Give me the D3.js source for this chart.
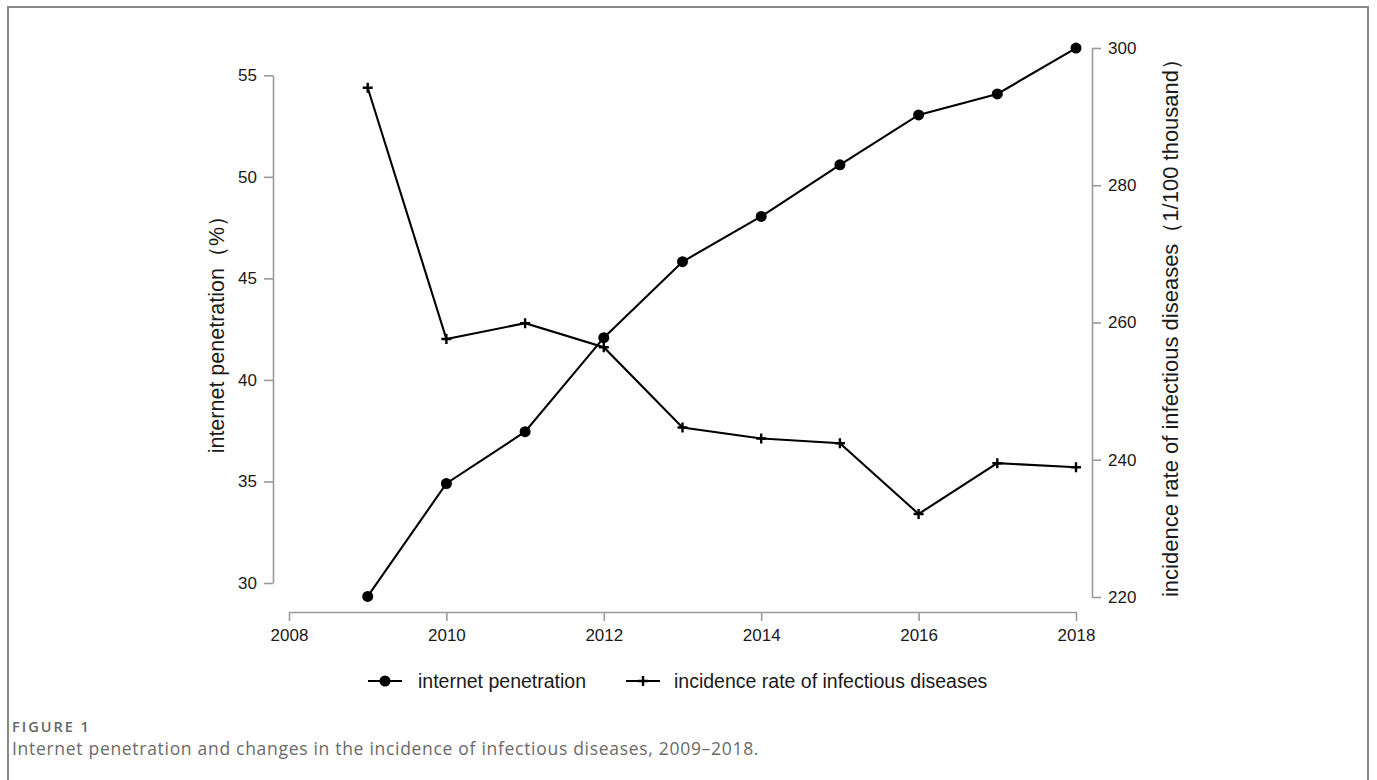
<!DOCTYPE html>
<html>
<head>
<meta charset="utf-8">
<script src="https://cdn.jsdelivr.net/npm/d3@7"></script>
<style>
  html, body { margin: 0; padding: 0; background: #fff; }
  svg { display: block; }
</style>
</head>
<body>
<svg id="chart" width="1377" height="780"></svg>
<script>
// Years on the shared x axis
const years = [2009, 2010, 2011, 2012, 2013, 2014, 2015, 2016, 2017, 2018];
// Internet penetration, % (left axis)
const penetration = [29.34, 34.9, 37.45, 42.08, 45.82, 48.05, 50.59, 53.05, 54.08, 56.34];
// Incidence rate of infectious diseases, per 100 thousand (right axis)
const incidence = [294.2, 257.6, 259.9, 256.4, 244.7, 243.1, 242.4, 232.1, 239.5, 238.9];

const xTicks = [2008, 2010, 2012, 2014, 2016, 2018];
const leftTicks = [30, 35, 40, 45, 50, 55];
const rightTicks = [220, 240, 260, 280, 300];

const seriesNames = ["internet penetration", "incidence rate of infectious diseases"];
const leftTitle = "internet penetration\uFF08%\uFF09";
const rightTitle = "incidence rate of infectious diseases\uFF081/100 thousand\uFF09";
const figLabel = "FIGURE 1";
const caption = "Internet penetration and changes in the incidence of infectious diseases, 2009\u20132018.";

const svg = d3.select("#chart");
const axisColor = "#9a9a9a";
const sans = "Arial, 'Liberation Sans', Helvetica, sans-serif";

// Figure frame (open at the bottom)
svg.append("path")
  .attr("d", "M8,780 L8,7 L1368,7 L1368,780")
  .attr("fill", "none")
  .attr("stroke", "#8a8a8a")
  .attr("stroke-width", 2);

// Scales
const x = d3.scaleLinear().domain([2008, 2018]).range([289, 1076]);
const yL = d3.scaleLinear().domain([30, 55]).range([583, 75.3]);
const yR = d3.scaleLinear().domain([220, 300]).range([597, 48]);

function styleAxis(g) {
  g.select(".domain").attr("stroke", axisColor).attr("stroke-width", 1.6);
  g.selectAll(".tick line").attr("stroke", axisColor).attr("stroke-width", 1.6);
  g.selectAll(".tick text")
    .attr("fill", "#1a1a1a")
    .style("font-family", sans)
    .style("font-size", "17px");
}

// Bottom axis
svg.append("g")
  .attr("transform", "translate(0,612)")
  .call(d3.axisBottom(x).tickValues(xTicks).tickFormat(d3.format("d")).tickSize(9).tickSizeOuter(0).tickPadding(8))
  .call(styleAxis);

// Left axis
svg.append("g")
  .attr("transform", "translate(273,0)")
  .call(d3.axisLeft(yL).tickValues(leftTicks).tickSize(9).tickSizeOuter(0).tickPadding(7))
  .call(styleAxis);

// Right axis
svg.append("g")
  .attr("transform", "translate(1092,0)")
  .call(d3.axisRight(yR).tickValues(rightTicks).tickSize(9).tickSizeOuter(0).tickPadding(7))
  .call(styleAxis);

// Axis titles
svg.append("text")
  .attr("transform", `translate(224,${(yL(30) + yL(55)) / 2}) rotate(-90)`)
  .attr("text-anchor", "middle")
  .style("font-family", sans)
  .style("font-size", "21.5px")
  .attr("fill", "#1a1a1a")
  .text(leftTitle);

svg.append("text")
  .attr("transform", `translate(1178,${(yR(220) + yR(300)) / 2}) rotate(-90)`)
  .attr("text-anchor", "middle")
  .style("font-family", sans)
  .style("font-size", "22px")
  .attr("fill", "#1a1a1a")
  .text(rightTitle);

// Lines
const linePen = d3.line().x((d, i) => x(years[i])).y(d => yL(d));
const lineInc = d3.line().x((d, i) => x(years[i])).y(d => yR(d));

svg.append("path")
  .datum(penetration)
  .attr("d", linePen)
  .attr("fill", "none")
  .attr("stroke", "#000")
  .attr("stroke-width", 2.1);

svg.append("path")
  .datum(incidence)
  .attr("d", lineInc)
  .attr("fill", "none")
  .attr("stroke", "#000")
  .attr("stroke-width", 2.1);

// Markers: filled dots for penetration, crosses for incidence
svg.append("g").selectAll("circle")
  .data(penetration)
  .join("circle")
  .attr("cx", (d, i) => x(years[i]))
  .attr("cy", d => yL(d))
  .attr("r", 5.5)
  .attr("fill", "#000");

const crossPath = (cx, cy, s) => `M${cx - s},${cy} L${cx + s},${cy} M${cx},${cy - s} L${cx},${cy + s}`;

svg.append("g").selectAll("path")
  .data(incidence)
  .join("path")
  .attr("d", (d, i) => crossPath(x(years[i]), yR(d), 5))
  .attr("stroke", "#000")
  .attr("stroke-width", 2.4)
  .attr("fill", "none");

// Legend
const legendY = 681;
const leg = svg.append("g");
leg.append("line").attr("x1", 368).attr("x2", 402).attr("y1", legendY).attr("y2", legendY)
  .attr("stroke", "#000").attr("stroke-width", 2.1);
leg.append("circle").attr("cx", 385).attr("cy", legendY).attr("r", 5.5).attr("fill", "#000");
leg.append("text").attr("x", 418).attr("y", legendY).attr("dy", "0.35em")
  .style("font-family", sans).style("font-size", "19.5px").attr("fill", "#1a1a1a")
  .text(seriesNames[0]);

leg.append("line").attr("x1", 626).attr("x2", 660).attr("y1", legendY).attr("y2", legendY)
  .attr("stroke", "#000").attr("stroke-width", 2.1);
leg.append("path").attr("d", crossPath(643, legendY, 5))
  .attr("stroke", "#000").attr("stroke-width", 2.4);
leg.append("text").attr("x", 674).attr("y", legendY).attr("dy", "0.35em")
  .style("font-family", sans).style("font-size", "19.5px").attr("fill", "#1a1a1a")
  .text(seriesNames[1]);

// Caption
svg.append("text")
  .attr("x", 12).attr("y", 732)
  .style("font-family", "'Open Sans', sans-serif")
  .style("font-size", "14.5px")
  .style("font-weight", "600")
  .style("letter-spacing", "2px")
  .attr("fill", "#666")
  .text(figLabel);

svg.append("text")
  .attr("x", 12).attr("y", 755)
  .style("font-family", "'Open Sans', sans-serif")
  .style("font-size", "17.5px")
  .style("letter-spacing", "0.7px")
  .attr("fill", "#6a6a6a")
  .text(caption);
</script>
</body>
</html>
